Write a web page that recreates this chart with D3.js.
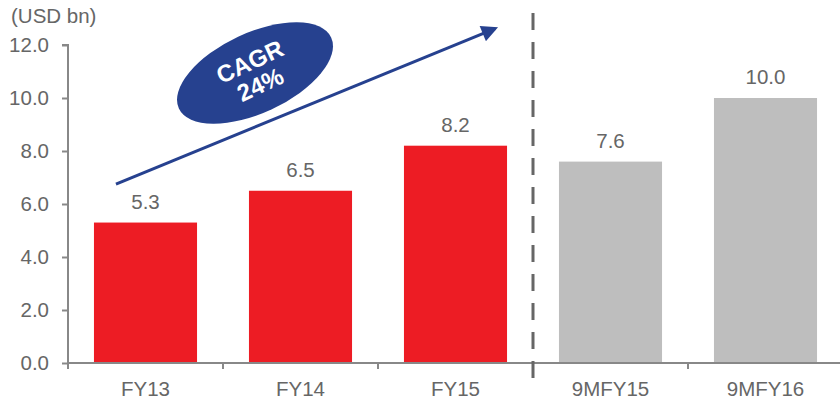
<!DOCTYPE html>
<html>
<head>
<meta charset="utf-8">
<script src="https://cdn.jsdelivr.net/npm/d3@7"></script>
<style>
  body { margin: 0; background: #fff; }
  text { font-family: "Liberation Sans", Arial, sans-serif; }
</style>
</head>
<body>
<script>
// chart data
const categories = ["FY13", "FY14", "FY15", "9MFY15", "9MFY16"];
const values = [5.3, 6.5, 8.2, 7.6, 10.0];
const periodType = ["full", "full", "full", "partial", "partial"];
const yTicks = [0, 2, 4, 6, 8, 10, 12];
const cagrLabel = ["CAGR", "24%"];

const width = 840, height = 403;
const margin = { left: 68, right: 843, top: 45, bottom: 363 };

const svg = d3.select("body").append("svg")
  .attr("width", width)
  .attr("height", height);

const x = d3.scaleBand()
  .domain(categories)
  .range([margin.left, margin.right])
  .paddingInner(0.335)
  .paddingOuter(0.1675);

const y = d3.scaleLinear()
  .domain([0, 12])
  .range([margin.bottom, margin.top]);

const colour = d3.scaleOrdinal()
  .domain(["full", "partial"])
  .range(["#ed1c24", "#bebebe"]);

// bars
svg.selectAll(".bar")
  .data(values)
  .enter()
  .append("rect")
  .attr("class", "bar")
  .attr("x", (d, i) => x(categories[i]))
  .attr("y", d => y(d))
  .attr("width", x.bandwidth())
  .attr("height", d => y(0) - y(d))
  .attr("fill", (d, i) => colour(periodType[i]));

// value labels
svg.selectAll(".val")
  .data(values)
  .enter()
  .append("text")
  .attr("class", "val")
  .attr("x", (d, i) => x(categories[i]) + x.bandwidth() / 2)
  .attr("y", d => y(d) - 14)
  .attr("text-anchor", "middle")
  .attr("fill", "#666")
  .style("font-size", "20.5px")
  .text(d => d.toFixed(1));

// y axis
const yAxis = d3.axisLeft(y)
  .tickValues(yTicks)
  .tickFormat(d3.format(".1f"))
  .tickSize(6)
  .tickPadding(13);
const gy = svg.append("g")
  .attr("transform", `translate(${margin.left},0)`)
  .call(yAxis);
gy.select(".domain").attr("stroke", "#888").attr("stroke-width", 2)
  .attr("d", `M-6,${y(12)}H0V${y(0)}`);
gy.selectAll(".tick line").attr("stroke", "#888").attr("stroke-width", 2);
gy.selectAll(".tick text").attr("fill", "#666").style("font-size", "20.5px")
  .style("font-family", "Liberation Sans, Arial, sans-serif");

// x axis
const bounds = categories.map(c => x(c) - x.step() * x.paddingInner() / 2);
svg.append("line")
  .attr("x1", margin.left).attr("x2", width)
  .attr("y1", y(0)).attr("y2", y(0))
  .attr("stroke", "#888").attr("stroke-width", 2);
svg.selectAll(".xtick")
  .data(bounds)
  .enter()
  .append("line")
  .attr("x1", d => d).attr("x2", d => d)
  .attr("y1", y(0)).attr("y2", y(0) + 6)
  .attr("stroke", "#888").attr("stroke-width", 2);
svg.selectAll(".xlab")
  .data(categories)
  .enter()
  .append("text")
  .attr("x", d => x(d) + x.bandwidth() / 2)
  .attr("y", y(0) + 33)
  .attr("text-anchor", "middle")
  .attr("fill", "#666")
  .style("font-size", "20.5px")
  .text(d => d);

// axis title
svg.append("text")
  .attr("x", 11)
  .attr("y", 23)
  .attr("fill", "#666")
  .style("font-size", "20.5px")
  .text("(USD bn)");

// divider between full years and 9 months
const divX = bounds[3];
svg.append("line")
  .attr("x1", divX).attr("x2", divX)
  .attr("y1", 13).attr("y2", 382)
  .attr("stroke", "#666")
  .attr("stroke-width", 3)
  .style("stroke-dasharray", "17, 12");

// CAGR arrow
const blue = "#26418f";
svg.append("defs").append("marker")
  .attr("id", "head")
  .attr("viewBox", "0 0 10 10")
  .attr("refX", 8).attr("refY", 5)
  .attr("markerWidth", 6).attr("markerHeight", 5.5)
  .attr("markerUnits", "strokeWidth")
  .attr("orient", "auto")
  .append("path")
  .attr("d", "M0,0L10,5L0,10Z")
  .attr("fill", blue);

svg.append("line")
  .attr("x1", x("FY13") + 22).attr("y1", y(6.75))
  .attr("x2", divX - 38).attr("y2", y(12.62))
  .attr("stroke", blue)
  .attr("stroke-width", 3)
  .attr("marker-end", "url(#head)");

const badge = svg.append("g")
  .attr("transform", "translate(255,73) rotate(-25)");
badge.append("ellipse")
  .attr("rx", 84).attr("ry", 40)
  .attr("fill", blue);
badge.selectAll("text")
  .data(cagrLabel)
  .enter()
  .append("text")
  .attr("x", 0)
  .attr("y", (d, i) => i * 25 - 4)
  .attr("text-anchor", "middle")
  .attr("fill", "#fff")
  .attr("font-weight", "bold")
  .style("font-size", "24px")
  .text(d => d);
</script>
</body>
</html>
